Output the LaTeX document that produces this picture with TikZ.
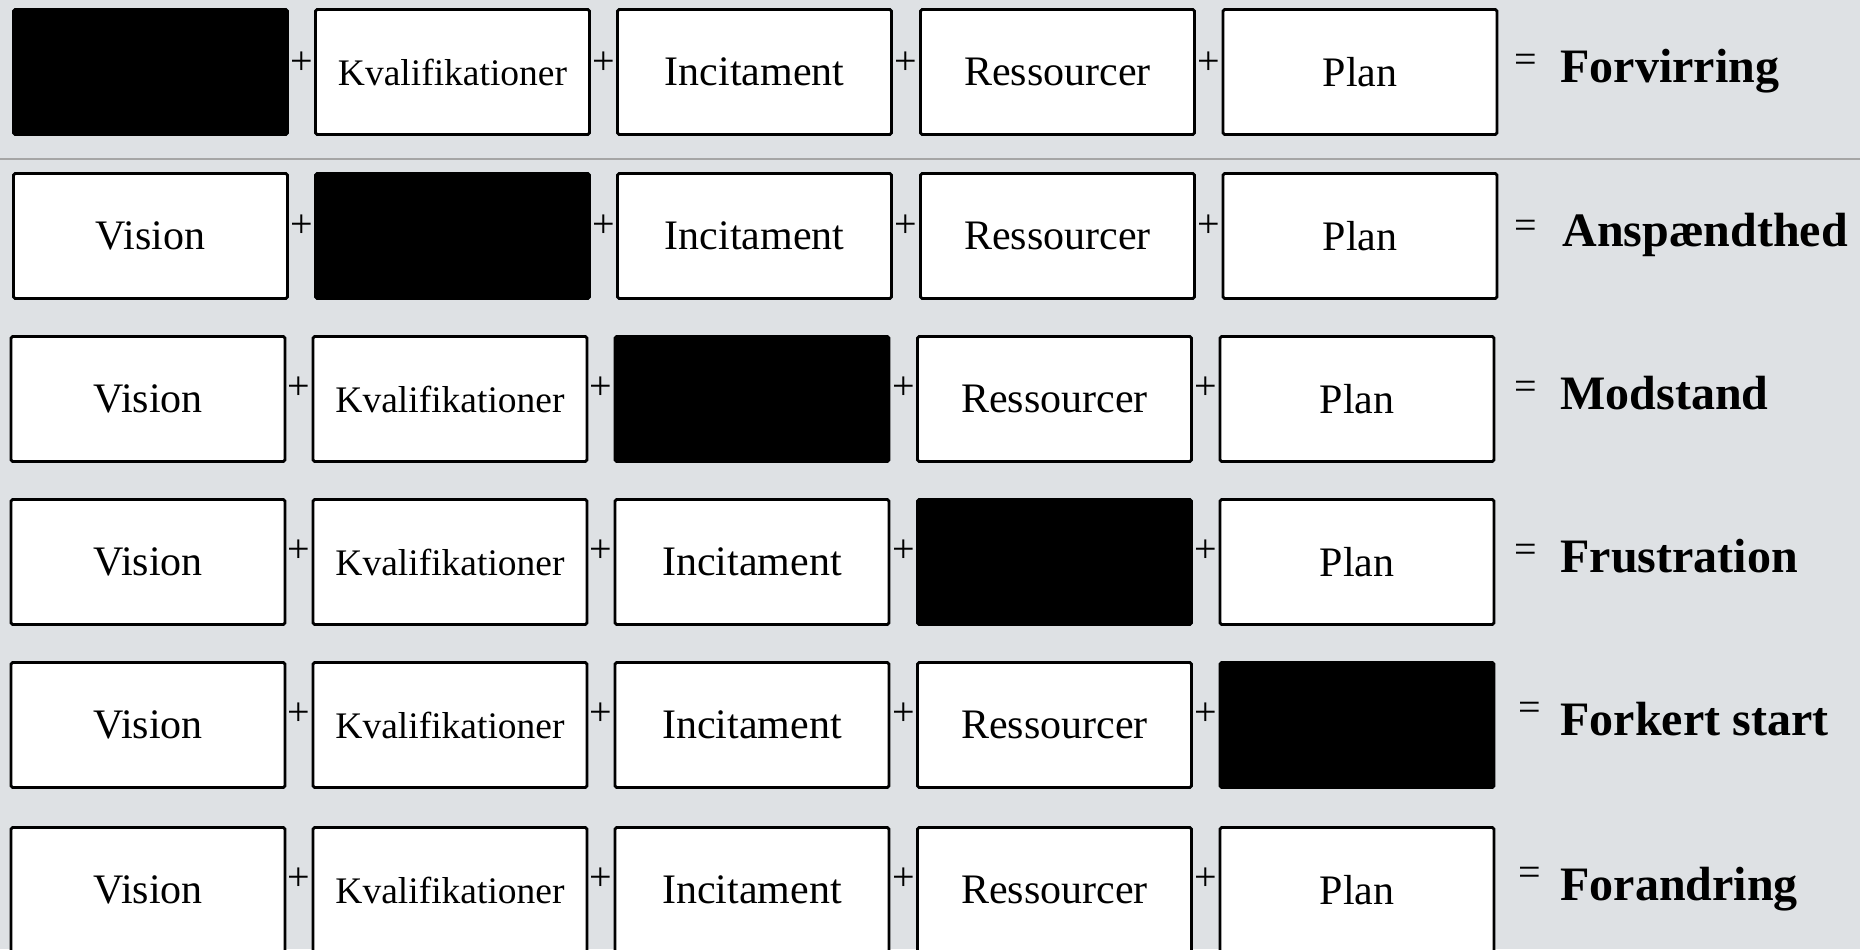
\documentclass[tikz,border=0pt]{standalone}
\usepackage{fontspec}
\setmainfont{Liberation Serif}
\definecolor{bggray}{RGB}{222,225,228}
\definecolor{rulegray}{RGB}{165,165,165}
\tikzset{
  box/.style={draw=black, line width=1.4pt, fill=white, minimum width=137pt, minimum height=62.5pt, inner sep=0pt, rounded corners=0.8pt, font=\fontsize{21}{25}\selectfont},
  blank/.style={box, fill=black},
  smalltxt/.style={font=\fontsize{18.75}{22}\selectfont},
  op/.style={inner sep=0pt, font=\fontsize{20}{24}\selectfont},
  result/.style={anchor=base west, inner sep=0pt, font=\fontsize{24}{28}\selectfont\bfseries}
}
\begin{document}
\begin{tikzpicture}[x=0.5pt,y=-0.5pt]
\useasboundingbox (0,0) rectangle (1860,949);
\fill[bggray] (0,0) rectangle (1860,949);
\draw[rulegray,line width=1pt] (0,159) -- (1860,159);
% row 1
\node[blank] (v1) at (150.5,72) {};
\node[box,smalltxt] (k1) at (452.5,72) {Kvalifikationer};
\node[box] (i1) at (754.5,72) {Incitament};
\node[box] (r1) at (1057.5,72) {Ressourcer};
\node[box] (p1) at (1360,72) {Plan};
\node[op] (pa1) at (301.5,63) {+};
\node[op] (pb1) at (603.5,63) {+};
\node[op] (pc1) at (906,63) {+};
\node[op] (pd1) at (1209,63) {+};
\node[op] (eq1) at (1526,63) {=};
\node[result] (res1) at (1560,82) {Forvirring};
% row 2
\node[box] (v2) at (150.5,236) {Vision};
\node[blank] (k2) at (452.5,236) {};
\node[box] (i2) at (754.5,236) {Incitament};
\node[box] (r2) at (1057.5,236) {Ressourcer};
\node[box] (p2) at (1360,236) {Plan};
\node[op] (pa2) at (301.5,226) {+};
\node[op] (pb2) at (603.5,226) {+};
\node[op] (pc2) at (906,226) {+};
\node[op] (pd2) at (1209,226) {+};
\node[op] (eq2) at (1526,229) {=};
\node[result] (res2) at (1562,246) {Anspændthed};
% row 3
\node[box] (v3) at (148,399) {Vision};
\node[box,smalltxt] (k3) at (450,399) {Kvalifikationer};
\node[blank] (i3) at (752,399) {};
\node[box] (r3) at (1054.5,399) {Ressourcer};
\node[box] (p3) at (1357,399) {Plan};
\node[op] (pa3) at (299,388) {+};
\node[op] (pb3) at (601,388) {+};
\node[op] (pc3) at (903.5,388) {+};
\node[op] (pd3) at (1206,388) {+};
\node[op] (eq3) at (1526,390) {=};
\node[result] (res3) at (1560,409) {Modstand};
% row 4
\node[box] (v4) at (148,562) {Vision};
\node[box,smalltxt] (k4) at (450,562) {Kvalifikationer};
\node[box] (i4) at (752,562) {Incitament};
\node[blank] (r4) at (1054.5,562) {};
\node[box] (p4) at (1357,562) {Plan};
\node[op] (pa4) at (299,551) {+};
\node[op] (pb4) at (601,551) {+};
\node[op] (pc4) at (903.5,551) {+};
\node[op] (pd4) at (1206,551) {+};
\node[op] (eq4) at (1526,553) {=};
\node[result] (res4) at (1560,572) {Frustration};
% row 5
\node[box] (v5) at (148,725) {Vision};
\node[box,smalltxt] (k5) at (450,725) {Kvalifikationer};
\node[box] (i5) at (752,725) {Incitament};
\node[box] (r5) at (1054.5,725) {Ressourcer};
\node[blank] (p5) at (1357,725) {};
\node[op] (pa5) at (299,714) {+};
\node[op] (pb5) at (601,714) {+};
\node[op] (pc5) at (903.5,714) {+};
\node[op] (pd5) at (1206,714) {+};
\node[op] (eq5) at (1530,711) {=};
\node[result] (res5) at (1560,735) {Forkert start};
% row 6
\node[box] (v6) at (148,890) {Vision};
\node[box,smalltxt] (k6) at (450,890) {Kvalifikationer};
\node[box] (i6) at (752,890) {Incitament};
\node[box] (r6) at (1054.5,890) {Ressourcer};
\node[box] (p6) at (1357,890) {Plan};
\node[op] (pa6) at (299,879) {+};
\node[op] (pb6) at (601,879) {+};
\node[op] (pc6) at (903.5,879) {+};
\node[op] (pd6) at (1206,879) {+};
\node[op] (eq6) at (1530,876) {=};
\node[result] (res6) at (1560,900) {Forandring};
\end{tikzpicture}
\end{document}
